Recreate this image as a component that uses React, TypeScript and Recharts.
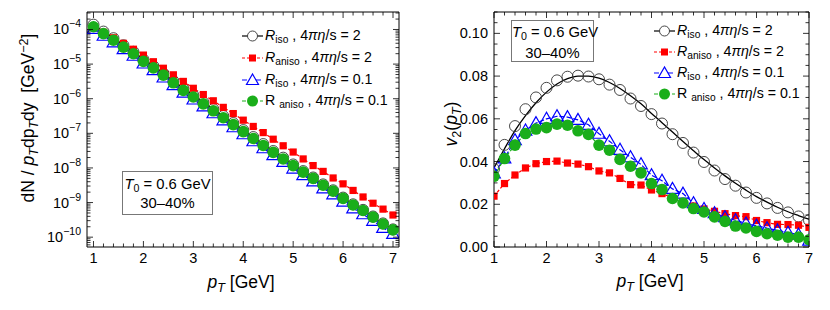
import React from "react";
import { LineChart, Line, XAxis, YAxis, ReferenceArea } from "recharts";

// transverse momentum grid (GeV)
const pT = [1.0, 1.2, 1.4, 1.6, 1.8, 2.0, 2.2, 2.4, 2.6, 2.8, 3.0, 3.2, 3.4, 3.6, 3.8, 4.0, 4.2, 4.4, 4.6, 4.8, 5.0, 5.2, 5.4, 5.6, 5.8, 6.0, 6.2, 6.4, 6.6, 6.8, 7.0];

// dN / pT dpT dy [GeV^-2]
const specIsoEta2 = [1.38e-4, 8.7e-5, 5.6e-5, 3.5e-5, 2.27e-5, 1.36e-5, 8.8e-6, 5.4e-6, 3.25e-6, 1.96e-6, 1.26e-6, 7.9e-7, 5.0e-7, 3.15e-7, 1.98e-7, 1.24e-7, 7.8e-8, 4.9e-8, 3.08e-8, 1.98e-8, 1.26e-8, 8.1e-9, 5.3e-9, 3.35e-9, 2.26e-9, 1.39e-9, 8.9e-10, 6.15e-10, 3.96e-10, 2.5e-10, 1.68e-10];
const specAnisoEta2 = [1.2e-4, 8.3e-5, 5.75e-5, 3.98e-5, 2.69e-5, 1.82e-5, 1.17e-5, 7.59e-6, 4.9e-6, 3.16e-6, 2.0e-6, 1.32e-6, 8.71e-7, 5.62e-7, 3.72e-7, 2.4e-7, 1.58e-7, 1.05e-7, 6.76e-8, 4.37e-8, 2.88e-8, 1.82e-8, 1.17e-8, 7.94e-9, 5.13e-9, 3.47e-9, 2.24e-9, 1.45e-9, 9.55e-10, 6.46e-10, 4.37e-10];
const specIsoEta01 = [1.04e-4, 6.6e-5, 4.26e-5, 2.69e-5, 1.74e-5, 1.04e-5, 6.7e-6, 4.1e-6, 2.47e-6, 1.49e-6, 9.5e-7, 6.0e-7, 3.8e-7, 2.38e-7, 1.5e-7, 9.4e-8, 5.9e-8, 3.7e-8, 2.34e-8, 1.5e-8, 9.6e-9, 6.2e-9, 4.1e-9, 2.57e-9, 1.73e-9, 1.06e-9, 6.8e-10, 4.6e-10, 2.97e-10, 1.86e-10, 1.24e-10];
const specAnisoEta01 = [1.2e-4, 7.59e-5, 4.9e-5, 3.09e-5, 2.0e-5, 1.2e-5, 7.76e-6, 4.79e-6, 2.88e-6, 1.74e-6, 1.12e-6, 7.08e-7, 4.47e-7, 2.82e-7, 1.78e-7, 1.12e-7, 7.08e-8, 4.47e-8, 2.82e-8, 1.82e-8, 1.17e-8, 7.59e-9, 5.01e-9, 3.16e-9, 2.14e-9, 1.32e-9, 8.51e-10, 5.89e-10, 3.8e-10, 2.4e-10, 1.62e-10];

// v2(pT)
const v2IsoEta2 = [0.0365, 0.0478, 0.0566, 0.0645, 0.07, 0.0745, 0.078, 0.0797, 0.0802, 0.0798, 0.0785, 0.076, 0.0735, 0.0695, 0.066, 0.0622, 0.0578, 0.0528, 0.0487, 0.0442, 0.0398, 0.0358, 0.0318, 0.0287, 0.0255, 0.023, 0.0204, 0.0183, 0.0162, 0.0143, 0.0125];
const v2IsoEta2Curve = [0.037, 0.046, 0.0545, 0.0615, 0.0675, 0.0725, 0.0763, 0.0788, 0.08, 0.08, 0.079, 0.077, 0.0742, 0.0708, 0.067, 0.0625, 0.0582, 0.0538, 0.0494, 0.0451, 0.0409, 0.037, 0.0333, 0.0298, 0.0266, 0.0236, 0.021, 0.0186, 0.0165, 0.0147, 0.013];
const v2AnisoEta2 = [0.0238, 0.0297, 0.0337, 0.037, 0.039, 0.04, 0.0402, 0.0393, 0.0388, 0.0376, 0.0356, 0.0347, 0.0321, 0.0292, 0.029, 0.0267, 0.025, 0.023, 0.0212, 0.0192, 0.0178, 0.0167, 0.0156, 0.0147, 0.0142, 0.0124, 0.0114, 0.0106, 0.0105, 0.0102, 0.0092];
const v2IsoEta01 = [0.0345, 0.0415, 0.05, 0.0545, 0.058, 0.06, 0.0612, 0.0608, 0.0595, 0.0572, 0.053, 0.0495, 0.0455, 0.042, 0.0387, 0.0336, 0.031, 0.0272, 0.025, 0.0205, 0.0178, 0.0158, 0.014, 0.0125, 0.011, 0.01, 0.0088, 0.0078, 0.0067, 0.0058, 0.003];
const v2AnisoEta01 = [0.0331, 0.0414, 0.0477, 0.0531, 0.0552, 0.0559, 0.0575, 0.057, 0.0544, 0.0527, 0.0477, 0.0453, 0.041, 0.0378, 0.0347, 0.0297, 0.0269, 0.0227, 0.0206, 0.018, 0.0164, 0.0141, 0.012, 0.0098, 0.0089, 0.0073, 0.0062, 0.0055, 0.0046, 0.0046, 0.0034];

// tick labels
const xTickLabels = ["1", "2", "3", "4", "5", "6", "7"];
const logTickExponents = [-10, -9, -8, -7, -6, -5, -4];
const v2TickLabels = ["0.00", "0.02", "0.04", "0.06", "0.08", "0.10"];

const FONT = "'Liberation Sans', Arial, Helvetica, sans-serif";
const RED = "#ff0000";
const BLUE = "#0000ff";
const GREEN = "#1aae1a";

const specData = pT.map((x, i) => ({
  pT: x,
  iso2: specIsoEta2[i],
  aniso2: specAnisoEta2[i],
  iso01: specIsoEta01[i],
  aniso01: specAnisoEta01[i],
}));

const v2Data = pT.map((x, i) => ({
  pT: x,
  iso2: v2IsoEta2[i],
  iso2curve: v2IsoEta2Curve[i],
  aniso2: v2AnisoEta2[i],
  iso01: v2IsoEta01[i],
  aniso01: v2AnisoEta01[i],
}));

// minor log ticks 2..9 x 10^n inside the domain
const LOG_MIN = 5.2e-11;
const LOG_MAX = 3.2e-4;
const logTicks: number[] = [];
for (let e = -11; e <= -4; e++) {
  for (let m = 1; m <= 9; m++) {
    const v = Number((m * Math.pow(10, e)).toPrecision(3));
    if (v >= LOG_MIN && v <= LOG_MAX) logTicks.push(v);
  }
}
const v2Ticks: number[] = [];
for (let k = 0; k <= 22; k++) v2Ticks.push(Number((k * 0.005).toFixed(3)));

// dot shapes
const openCircle = (p: any) =>
  p.cx == null ? null : <circle key={`c${p.index}`} cx={p.cx} cy={p.cy} r={5.5} fill="none" stroke="#333" strokeWidth={0.9} />;
const redSquare = (p: any) =>
  p.cx == null ? null : <rect key={`s${p.index}`} x={p.cx - 3.6} y={p.cy - 3.6} width={7.2} height={7.2} fill={RED} />;
const blueTriangle = (p: any) =>
  p.cx == null ? null : (
    <polygon key={`t${p.index}`} points={`${p.cx},${p.cy - 6.5} ${p.cx - 6.3},${p.cy + 4.5} ${p.cx + 6.3},${p.cy + 4.5}`} fill="none" stroke={BLUE} strokeWidth={1.2} />
  );
const greenDisk = (p: any) =>
  p.cx == null ? null : <circle key={`g${p.index}`} cx={p.cx} cy={p.cy} r={5.8} fill={GREEN} />;

// x ticks: inward on bottom and top of the frame
const makeXTick = (top: number) => (p: any) => {
  const v = p.payload.value;
  const idx = xTickLabels.indexOf(String(Math.round(v)));
  const major = Math.abs(v - Math.round(v)) < 1e-6 && idx >= 0;
  const len = major ? 6 : 3.5;
  return (
    <g key={`xt${p.index}`}>
      <line x1={p.x} y1={p.y} x2={p.x} y2={p.y - len} stroke="#000" strokeWidth={0.8} />
      <line x1={p.x} y1={top} x2={p.x} y2={top + len} stroke="#000" strokeWidth={0.8} />
      {major && (
        <text x={p.x} y={p.y + 16} textAnchor="middle" fontFamily={FONT} fontSize={14.5} fill="#000">
          {xTickLabels[idx]}
        </text>
      )}
    </g>
  );
};

const makeLogTick = (right: number) => (p: any) => {
  const e = Math.log10(p.payload.value);
  const major = Math.abs(e - Math.round(e)) < 1e-6 && logTickExponents.includes(Math.round(e));
  const len = major ? 6 : 3.5;
  return (
    <g key={`yt${p.index}`}>
      <line x1={p.x} y1={p.y} x2={p.x + len} y2={p.y} stroke="#000" strokeWidth={0.8} />
      <line x1={right - len} y1={p.y} x2={right} y2={p.y} stroke="#000" strokeWidth={0.8} />
      {major && (
        <text x={p.x - 6} y={p.y + 5} textAnchor="end" fontFamily={FONT} fontSize={14.5} fill="#000">
          10
          <tspan dy={-7} fontSize={10.5}>{`\u2212${-Math.round(e)}`}</tspan>
        </text>
      )}
    </g>
  );
};

const makeV2Tick = (right: number) => (p: any) => {
  const v = p.payload.value;
  const k = Math.round(v / 0.02);
  const major = Math.abs(v - k * 0.02) < 1e-6;
  const len = major ? 6 : 3.5;
  return (
    <g key={`vt${p.index}`}>
      <line x1={p.x} y1={p.y} x2={p.x + len} y2={p.y} stroke="#000" strokeWidth={0.8} />
      <line x1={right - len} y1={p.y} x2={right} y2={p.y} stroke="#000" strokeWidth={0.8} />
      {major && (
        <text x={p.x - 6} y={p.y + 5} textAnchor="end" fontFamily={FONT} fontSize={14.5} fill="#000">
          {v2TickLabels[k]}
        </text>
      )}
    </g>
  );
};

const subStyle: React.CSSProperties = { fontSize: "0.72em", position: "relative", top: "0.32em" };
const supStyle: React.CSSProperties = { fontSize: "0.72em", position: "relative", top: "-0.45em" };

const legendItems = [
  {
    key: "iso2",
    color: "#000",
    dash: undefined as string | undefined,
    marker: (cx: number, cy: number) => <circle cx={cx} cy={cy} r={5} fill="#fff" stroke="#333" strokeWidth={0.9} />,
    label: (
      <>
        <i>R</i>
        <span style={subStyle}>iso</span> , 4<i>πη</i>/s = 2
      </>
    ),
  },
  {
    key: "aniso2",
    color: RED,
    dash: "3 2",
    marker: (cx: number, cy: number) => <rect x={cx - 3.5} y={cy - 3.5} width={7} height={7} fill={RED} />,
    label: (
      <>
        <i>R</i>
        <span style={subStyle}>aniso</span> , 4<i>πη</i>/s = 2
      </>
    ),
  },
  {
    key: "iso01",
    color: BLUE,
    dash: "5 2",
    marker: (cx: number, cy: number) => (
      <polygon points={`${cx},${cy - 6} ${cx - 6},${cy + 4.5} ${cx + 6},${cy + 4.5}`} fill="#fff" stroke={BLUE} strokeWidth={1.2} />
    ),
    label: (
      <>
        <i>R</i>
        <span style={subStyle}>iso</span> , 4<i>πη</i>/s = 0.1
      </>
    ),
  },
  {
    key: "aniso01",
    color: GREEN,
    dash: "4 2",
    marker: (cx: number, cy: number) => <circle cx={cx} cy={cy} r={5.5} fill={GREEN} />,
    label: (
      <>
        R <span style={subStyle}>aniso</span> , 4<i>πη</i>/s = 0.1
      </>
    ),
  },
];

const PlotLegend = ({ left, rows }: { left: number; rows: number[] }) => (
  <>
    {legendItems.map((it, i) => (
      <div
        key={it.key}
        style={{
          position: "absolute",
          left,
          top: rows[i] - 11,
          height: 22,
          display: "flex",
          alignItems: "center",
          fontFamily: FONT,
          fontSize: 14.2,
          whiteSpace: "nowrap",
          lineHeight: "22px",
        }}
      >
        <svg width={23} height={16} style={{ marginRight: 1 }}>
          <line x1={1} y1={8} x2={22} y2={8} stroke={it.color} strokeWidth={1.2} strokeDasharray={it.dash} />
          {it.marker(11.5, 8)}
        </svg>
        <span>{it.label}</span>
      </div>
    ))}
  </>
);

const InfoBox = ({ left, top, width, height, row1, row2 }: any) => (
  <div
    style={{
      position: "absolute",
      left,
      top,
      width,
      height,
      border: "1px solid #777",
      boxSizing: "border-box",
      fontFamily: FONT,
      fontSize: 14.8,
      textAlign: "center",
      background: "#fff",
    }}
  >
    <div style={{ position: "absolute", left: 0, right: 0, top: row1 - top - 10, lineHeight: "20px", whiteSpace: "nowrap" }}>
      <i>T</i>
      <span style={subStyle}>0</span> = 0.6 GeV
    </div>
    <div style={{ position: "absolute", left: 0, right: 0, top: row2 - top - 10, lineHeight: "20px" }}>30–40%</div>
  </div>
);

const axisLabelStyle: React.CSSProperties = {
  position: "absolute",
  fontFamily: FONT,
  fontSize: 17.5,
  whiteSpace: "nowrap",
  textAlign: "center",
  lineHeight: "24px",
  height: 24,
};

export default function App() {
  return (
    <div style={{ position: "absolute", left: 0, top: 0, width: 830, height: 310, background: "#fff", overflow: "hidden" }}>
      {/* left panel: spectra */}
      <div style={{ position: "absolute", left: 0, top: 0 }}>
        <LineChart width={415} height={310} data={specData} margin={{ top: 12, right: 16, left: 0, bottom: 0 }}>
          <XAxis
            dataKey="pT"
            type="number"
            domain={[0.87, 7.12]}
            allowDataOverflow
            ticks={pT}
            interval={0}
            height={63}
            axisLine={false}
            tickLine={false}
            tickSize={0}
            tickMargin={0}
            tick={makeXTick(12)}
          />
          <YAxis
            type="number"
            scale="log"
            domain={[LOG_MIN, LOG_MAX]}
            allowDataOverflow
            ticks={logTicks}
            interval={0}
            width={87}
            axisLine={false}
            tickLine={false}
            tickSize={0}
            tickMargin={0}
            tick={makeLogTick(399)}
          />
          <ReferenceArea x1={0.87} x2={7.12} y1={LOG_MIN} y2={LOG_MAX} fill="none" stroke="#000" strokeWidth={1} ifOverflow="visible" />
          <Line dataKey="iso2" type="linear" stroke="#000" strokeWidth={1.2} dot={openCircle} activeDot={false} isAnimationActive={false} />
          <Line dataKey="aniso2" type="linear" stroke={RED} strokeWidth={1.2} strokeDasharray="3 2" dot={redSquare} activeDot={false} isAnimationActive={false} />
          <Line dataKey="iso01" type="linear" stroke={BLUE} strokeWidth={1.2} strokeDasharray="5 2" dot={blueTriangle} activeDot={false} isAnimationActive={false} />
          <Line dataKey="aniso01" type="linear" stroke={GREEN} strokeWidth={1.2} strokeDasharray="4 2" dot={greenDisk} activeDot={false} isAnimationActive={false} />
        </LineChart>
      </div>

      {/* right panel: elliptic flow */}
      <div style={{ position: "absolute", left: 415, top: 0 }}>
        <LineChart width={415} height={310} data={v2Data} margin={{ top: 12, right: 21, left: 0, bottom: 0 }}>
          <XAxis
            dataKey="pT"
            type="number"
            domain={[1, 7]}
            allowDataOverflow
            ticks={pT}
            interval={0}
            height={63}
            axisLine={false}
            tickLine={false}
            tickSize={0}
            tickMargin={0}
            tick={makeXTick(12)}
          />
          <YAxis
            type="number"
            domain={[0, 0.11]}
            allowDataOverflow
            ticks={v2Ticks}
            interval={0}
            width={79}
            axisLine={false}
            tickLine={false}
            tickSize={0}
            tickMargin={0}
            tick={makeV2Tick(394)}
          />
          <ReferenceArea x1={1} x2={7} y1={0} y2={0.11} fill="none" stroke="#000" strokeWidth={1} ifOverflow="visible" />
          <Line dataKey="iso2curve" type="monotone" stroke="#000" strokeWidth={1.3} dot={false} activeDot={false} isAnimationActive={false} />
          <Line dataKey="iso2" type="linear" stroke="none" dot={openCircle} activeDot={false} isAnimationActive={false} />
          <Line dataKey="aniso2" type="linear" stroke={RED} strokeWidth={1.2} strokeDasharray="3 2" dot={redSquare} activeDot={false} isAnimationActive={false} />
          <Line dataKey="iso01" type="linear" stroke={BLUE} strokeWidth={1.2} strokeDasharray="5 2" dot={blueTriangle} activeDot={false} isAnimationActive={false} />
          <Line dataKey="aniso01" type="linear" stroke={GREEN} strokeWidth={1.2} strokeDasharray="4 2" dot={greenDisk} activeDot={false} isAnimationActive={false} />
        </LineChart>
      </div>

      <PlotLegend left={241} rows={[36, 58, 79.5, 100.5]} />
      <PlotLegend left={653} rows={[31, 52, 73, 94]} />

      <InfoBox left={122} top={171} width={91} height={44} row1={183} row2={202} />
      <InfoBox left={511} top={20} width={83} height={42} row1={31} row2={51.5} />

      {/* axis labels */}
      <div style={{ ...axisLabelStyle, left: 28 - 120, top: 118 - 12, width: 240, transform: "rotate(-90deg)" }}>
        dN / <i>p</i>
        <i style={subStyle}>T</i>dp<i style={subStyle}>T</i>dy&nbsp; [GeV<span style={supStyle}>−2</span>]
      </div>
      <div style={{ ...axisLabelStyle, left: 451 - 60, top: 124 - 12, width: 120, transform: "rotate(-90deg)" }}>
        <i>v</i>
        <span style={subStyle}>2</span>(<i>p</i>
        <i style={subStyle}>T</i>)
      </div>
      <div style={{ ...axisLabelStyle, left: 241 - 60, top: 282 - 12, width: 120 }}>
        <i>p</i>
        <i style={subStyle}>T</i> [GeV]
      </div>
      <div style={{ ...axisLabelStyle, left: 650 - 60, top: 281 - 12, width: 120 }}>
        <i>p</i>
        <i style={subStyle}>T</i> [GeV]
      </div>
    </div>
  );
}
